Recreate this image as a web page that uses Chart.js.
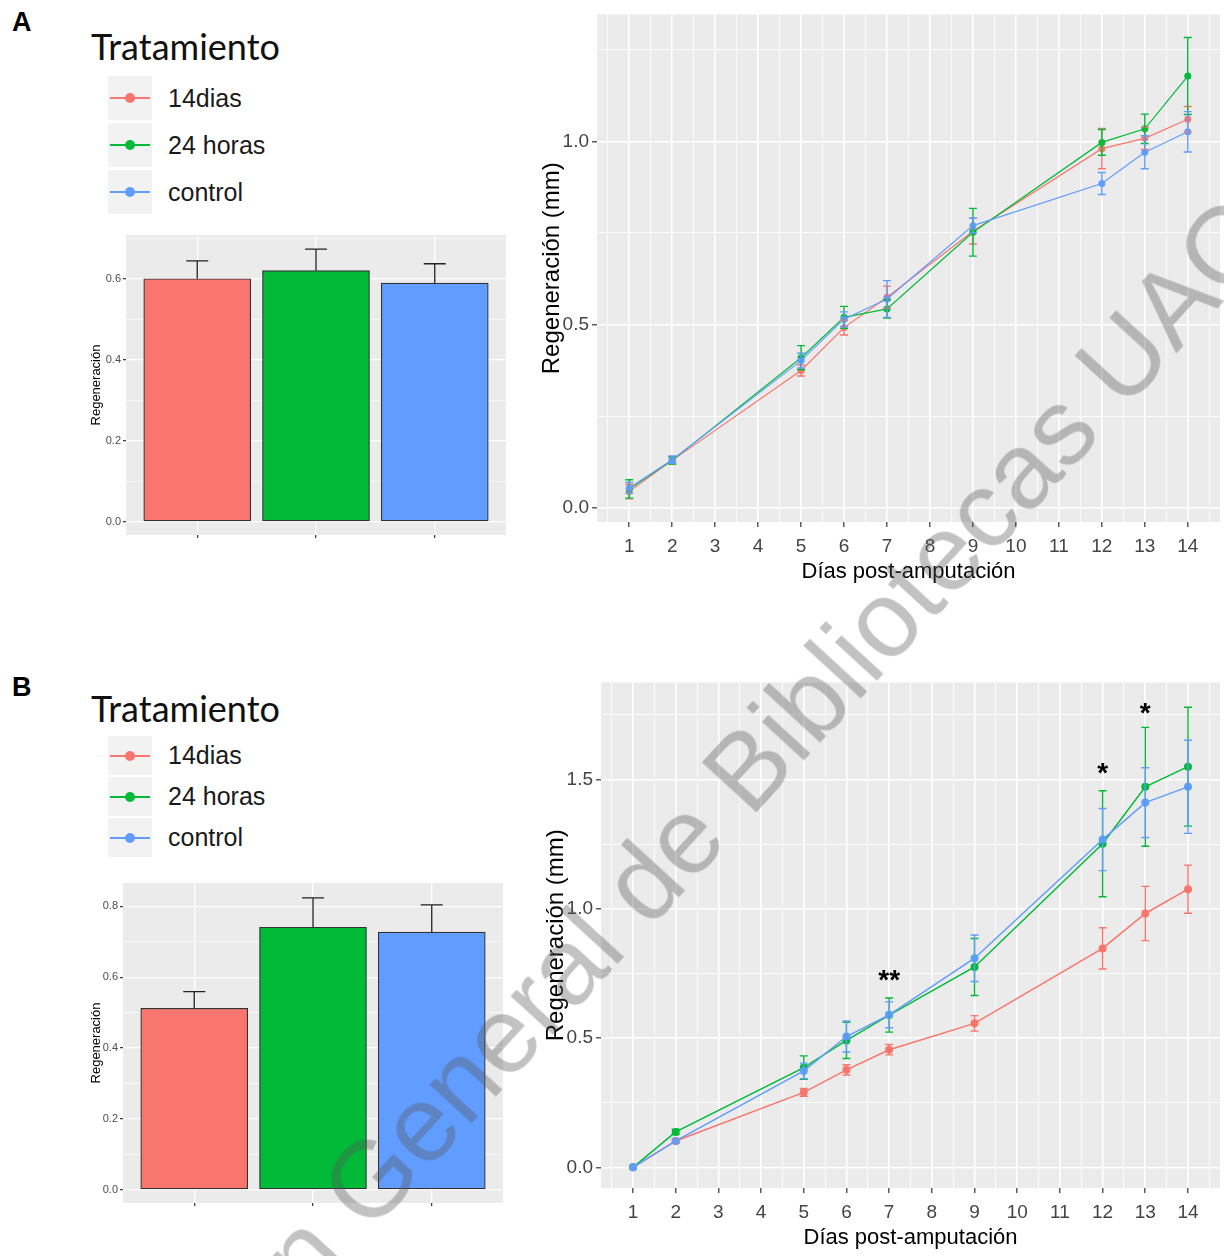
<!DOCTYPE html>
<html>
<head>
<meta charset="utf-8">
<script src="https://cdn.jsdelivr.net/npm/chart.js@4.4.1/dist/chart.umd.min.js"></script>
<style>
body { margin: 0; background: #fff; width: 1224px; height: 1256px; position: relative; overflow: hidden; font-family: "Liberation Sans", Arial, sans-serif; }
canvas { position: absolute; }
.letra { position: absolute; font: bold 27px/1 "Liberation Sans", Arial, sans-serif; color: #000; }
.titulo { position: absolute; font: 36px/1 Lato, "Open Sans", sans-serif; color: #111; }
.fila { position: absolute; left: 108px; width: 300px; }
.clave { position: absolute; left: 0; top: 0; width: 44px; height: 100%; background: #F2F2F2; }
.clave .ln { position: absolute; left: 2px; width: 40px; height: 2px; }
.clave .pt { position: absolute; left: 17px; width: 10px; height: 10px; border-radius: 50%; }
.etq { position: absolute; left: 60px; font-size: 25px; color: #1a1a1a; white-space: nowrap; }
#marca { position: absolute; left: 636px; top: 889px; transform: translate(-50%, -50%) rotate(-47.5deg); font: 108px/1 "Liberation Sans", Arial, sans-serif; color: rgba(85, 85, 85, 0.36); white-space: nowrap; pointer-events: none; }
</style>
</head>
<body>
<div class="letra" style="left:12px;top:9px">A</div>
<div class="letra" style="left:12px;top:674px">B</div>
<div class="titulo" style="left:91px;top:28px">Tratamiento</div>
<div class="titulo" style="left:91px;top:690px">Tratamiento</div>
<div id="leyA"></div>
<div id="leyB"></div>

<canvas id="barA" width="426" height="320" style="left:80px;top:225px"></canvas>
<canvas id="lineaA" width="694" height="590" style="left:530px;top:0px"></canvas>
<canvas id="barB" width="423" height="340" style="left:80px;top:873px"></canvas>
<canvas id="lineaB" width="690" height="588" style="left:534px;top:668px"></canvas>

<div id="marca">Dirección General de Bibliotecas UAQ</div>

<script>
// grupos y colores (ggplot por defecto)
var grupos = ["14dias", "24 horas", "control"];
var colores = ["#F8766D", "#00BA38", "#619CFF"];

// dias medidos y etiquetas del eje x
var dias = [1, 2, 5, 6, 7, 9, 12, 13, 14];
var diasEje = [1, 2, 3, 4, 5, 6, 7, 8, 9, 10, 11, 12, 13, 14];

// A: regeneracion por dia (mm) y error
var a14 = [0.045, 0.13, 0.375, 0.492, 0.575, 0.755, 0.98, 1.008, 1.06];
var a14Err = [0.02, 0.01, 0.015, 0.02, 0.03, 0.035, 0.055, 0.03, 0.035];
var a24 = [0.052, 0.13, 0.41, 0.52, 0.543, 0.752, 0.997, 1.034, 1.178];
var a24Err = [0.025, 0.01, 0.033, 0.03, 0.025, 0.065, 0.035, 0.04, 0.105];
var aCtl = [0.055, 0.132, 0.402, 0.515, 0.57, 0.77, 0.885, 0.97, 1.026];
var aCtlErr = [0.015, 0.01, 0.02, 0.02, 0.05, 0.02, 0.03, 0.045, 0.055];

// B: regeneracion por dia (mm) y error
var b14 = [0.0, 0.102, 0.29, 0.377, 0.455, 0.557, 0.847, 0.982, 1.076];
var b14Err = [0, 0.008, 0.015, 0.02, 0.02, 0.03, 0.08, 0.105, 0.093];
var b24 = [0.0, 0.137, 0.386, 0.491, 0.589, 0.775, 1.252, 1.472, 1.55];
var b24Err = [0, 0.01, 0.045, 0.07, 0.066, 0.11, 0.205, 0.23, 0.23];
var bCtl = [0.0, 0.102, 0.373, 0.506, 0.59, 0.809, 1.268, 1.411, 1.472];
var bCtlErr = [0, 0.008, 0.03, 0.06, 0.05, 0.09, 0.12, 0.135, 0.18];

// asteriscos de significancia en B
var estDias = [7, 12, 13];
var estY = [0.72, 1.52, 1.755];
var estTxt = ["**", "*", "*"];

// barras: promedio total y error
var barA = [0.600, 0.620, 0.589];
var barAErr = [0.044, 0.053, 0.048];
var barB = [0.512, 0.741, 0.727];
var barBErr = [0.047, 0.083, 0.077];

// ticks del eje y
var yTicksLineaA = [0, 0.5, 1.0];
var yTicksLineaB = [0, 0.5, 1.0, 1.5];
var yTicksBarA = [0, 0.2, 0.4, 0.6];
var yTicksBarB = [0, 0.2, 0.4, 0.6, 0.8];

// leyendas
function leyenda(id, top, alto, sep) {
    var cont = document.getElementById(id);
    grupos.forEach(function (g, i) {
        var f = document.createElement('div');
        f.className = 'fila';
        f.style.top = (top + i * (alto + sep)) + 'px';
        f.style.height = alto + 'px';
        f.innerHTML = '<div class="clave"><div class="ln" style="top:' + (alto / 2 - 1) + 'px;background:' + colores[i] + '"></div>' +
            '<div class="pt" style="top:' + (alto / 2 - 5) + 'px;background:' + colores[i] + '"></div></div>' +
            '<div class="etq" style="line-height:' + alto + 'px">' + g + '</div>';
        cont.appendChild(f);
    });
}
leyenda('leyA', 76, 44, 3);
leyenda('leyB', 736, 39, 2);

// ticks mayores + menores (grilla ggplot)
function conMenores(mayores, min, max) {
    var paso = mayores[1] - mayores[0];
    var t = mayores.map(function (v) { return {value: v}; });
    var cands = [mayores[0] - paso / 2].concat(mayores.map(function (v) { return v + paso / 2; }));
    cands.forEach(function (v) {
        if (v > min && v < max) t.push({value: v, menor: true});
    });
    t.sort(function (a, b) { return a.value - b.value; });
    return t;
}

var fondoPanel = {
    id: 'fondoPanel',
    beforeDraw: function (chart) {
        var a = chart.chartArea, ctx = chart.ctx;
        ctx.save();
        ctx.fillStyle = '#EBEBEB';
        ctx.fillRect(a.left, a.top, a.right - a.left, a.bottom - a.top);
        ctx.restore();
    }
};

var barrasError = {
    id: 'barrasError',
    afterDatasetsDraw: function (chart, args, opts) {
        var ctx = chart.ctx, xs = chart.scales.x, ys = chart.scales.y;
        chart.data.datasets.forEach(function (ds) {
            if (!ds.errores) return;
            ctx.save();
            ctx.lineWidth = opts.ancho;
            ds.data.forEach(function (p, j) {
                var e = ds.errores[j];
                if (!e) return;
                ctx.strokeStyle = opts.color || ds.borderColor;
                var x = xs.getPixelForValue(p.x);
                var y1 = ys.getPixelForValue(p.y + e);
                var y0 = ys.getPixelForValue(opts.soloArriba ? p.y : p.y - e);
                ctx.beginPath();
                ctx.moveTo(x, y0); ctx.lineTo(x, y1);
                ctx.moveTo(x - opts.cap, y1); ctx.lineTo(x + opts.cap, y1);
                if (!opts.soloArriba) { ctx.moveTo(x - opts.cap, y0); ctx.lineTo(x + opts.cap, y0); }
                ctx.stroke();
            });
            ctx.restore();
        });
    }
};

var estrellas = {
    id: 'estrellas',
    afterDatasetsDraw: function (chart, args, opts) {
        if (!opts.dias) return;
        var ctx = chart.ctx;
        ctx.save();
        ctx.fillStyle = '#000';
        ctx.font = 'bold 28px "Liberation Sans", Arial, sans-serif';
        ctx.textAlign = 'center';
        ctx.textBaseline = 'alphabetic';
        opts.dias.forEach(function (d, i) {
            var x = chart.scales.x.getPixelForValue(d);
            var y = chart.scales.y.getPixelForValue(opts.y[i]);
            ctx.fillText(opts.txt[i], x, y + 8);
        });
        ctx.restore();
    }
};

function grilla(fino, grueso, largo) {
    return {
        offset: false,
        color: '#FFFFFF',
        lineWidth: function (c) { return c.tick && c.tick.menor ? fino : grueso; },
        tickColor: function (c) { return c.tick && c.tick.menor ? 'rgba(0,0,0,0)' : '#333333'; },
        tickWidth: 1.2,
        tickLength: largo
    };
}

function serie(vals, errs, i, radio, grosor) {
    return {
        label: grupos[i],
        data: dias.map(function (d, j) { return {x: d, y: vals[j]}; }),
        errores: errs,
        borderColor: colores[i],
        backgroundColor: colores[i],
        pointBackgroundColor: colores[i],
        pointBorderWidth: 0,
        pointRadius: radio,
        borderWidth: grosor,
        tension: 0,
        order: 3 - i
    };
}

var regular = '"Liberation Sans", Arial, sans-serif';

function graficoLinea(id, series, yMin, yMax, yMayores, padIzq, est) {
    var xMayores = diasEje;
    return new Chart(document.getElementById(id), {
        type: 'line',
        data: {datasets: series},
        options: {
            responsive: false,
            animation: false,
            layout: {padding: {left: padIzq, top: 10, right: 0, bottom: 0}},
            plugins: {
                legend: {display: false},
                tooltip: {enabled: false},
                barrasError: {ancho: 1.4, cap: 4, soloArriba: false},
                estrellas: est || {}
            },
            scales: {
                x: {
                    type: 'linear', min: 0.25, max: 14.75,
                    border: {display: false},
                    grid: grilla(0.8, 1.6, 5),
                    afterBuildTicks: function (s) { s.ticks = conMenores(xMayores, 0.25, 14.75); },
                    afterFit: function (s) { s.height = 68; },
                    ticks: {
                        autoSkip: false, maxRotation: 0, padding: 8,
                        color: '#444444', font: {family: regular, size: 19},
                        callback: function (v) { return Number.isInteger(v) ? String(v) : ''; }
                    },
                    title: {display: true, text: 'Días post-amputación', color: '#000', font: {family: regular, size: 22}, padding: {top: 0, bottom: 5}}
                },
                y: {
                    type: 'linear', min: yMin, max: yMax,
                    border: {display: false},
                    grid: grilla(0.8, 1.6, 5),
                    afterBuildTicks: function (s) { s.ticks = conMenores(yMayores, yMin, yMax); },
                    afterFit: function (s) { s.width = 63; },
                    ticks: {
                        autoSkip: false, padding: 3,
                        color: '#444444', font: {family: regular, size: 19},
                        callback: function (v, i, t) { return t[i].menor ? '' : v.toFixed(1); }
                    },
                    title: {display: true, text: 'Regeneración (mm)', color: '#000', font: {family: regular, size: 24}, padding: {top: 4, bottom: 0}}
                }
            }
        },
        plugins: [fondoPanel, barrasError, estrellas]
    });
}

function graficoBarra(id, vals, errs, yMin, yMax, yMayores, padIzq, anchoY) {
    return new Chart(document.getElementById(id), {
        type: 'bar',
        data: {
            datasets: [{
                data: vals.map(function (v, i) { return {x: i + 1, y: v}; }),
                errores: errs,
                backgroundColor: colores,
                borderColor: '#333333',
                borderWidth: 1.2,
                borderSkipped: false,
                barThickness: 107
            }]
        },
        options: {
            responsive: false,
            animation: false,
            layout: {padding: {left: padIzq, top: 10, right: 0, bottom: 0}},
            plugins: {
                legend: {display: false},
                tooltip: {enabled: false},
                barrasError: {ancho: 1.3, cap: 11, soloArriba: true, color: '#222222'}
            },
            scales: {
                x: {
                    type: 'linear', min: 0.4, max: 3.6, offset: false,
                    border: {display: false},
                    grid: grilla(0.6, 1.3, 3),
                    afterBuildTicks: function (s) { s.ticks = [{value: 1}, {value: 2}, {value: 3}]; },
                    afterFit: function (s) { s.height = 10; },
                    ticks: {display: true, autoSkip: false, maxRotation: 0, callback: function () { return ''; }}
                },
                y: {
                    type: 'linear', min: yMin, max: yMax,
                    border: {display: false},
                    grid: grilla(0.6, 1.3, 3),
                    afterBuildTicks: function (s) { s.ticks = conMenores(yMayores, yMin, yMax); },
                    afterFit: function (s) { s.width = anchoY; },
                    ticks: {
                        autoSkip: false, padding: 2,
                        color: '#4D4D4D', font: {family: regular, size: 11},
                        callback: function (v, i, t) { return t[i].menor ? '' : v.toFixed(1); }
                    },
                    title: {display: true, text: 'Regeneración', color: '#000', font: {family: regular, size: 13}, padding: {top: 4, bottom: 0}}
                }
            }
        },
        plugins: [fondoPanel, barrasError]
    });
}

graficoBarra('barA', barA, barAErr, -0.033, 0.708, yTicksBarA, 5, 41);
graficoBarra('barB', barB, barBErr, -0.038, 0.866, yTicksBarB, 5, 38);

graficoLinea('lineaA', [
    serie(a14, a14Err, 0, 3.5, 1.2),
    serie(a24, a24Err, 1, 3.5, 1.2),
    serie(aCtl, aCtlErr, 2, 3.5, 1.2)
], -0.038, 1.346, yTicksLineaA, 4);

graficoLinea('lineaB', [
    serie(b14, b14Err, 0, 4, 1.5),
    serie(b24, b24Err, 1, 4, 1.5),
    serie(bCtl, bCtlErr, 2, 4, 1.5)
], -0.08, 1.876, yTicksLineaB, 4, {dias: estDias, y: estY, txt: estTxt});
</script>
</body>
</html>
